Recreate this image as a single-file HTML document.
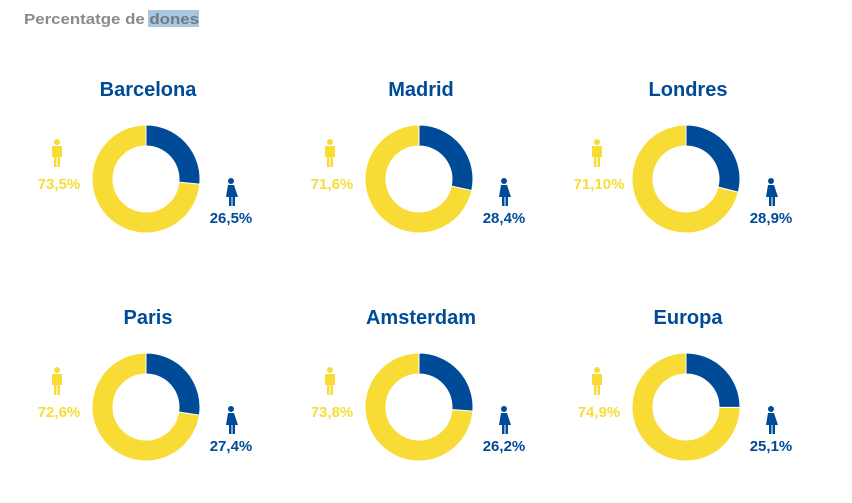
<!DOCTYPE html>
<html><head><meta charset="utf-8">
<style>
body{margin:0;background:#fff;width:852px;height:498px;overflow:hidden;font-family:"Liberation Sans",sans-serif;}
svg text{font-family:"Liberation Sans",sans-serif;font-weight:bold;}
</style></head>
<body>
<svg id="chart" width="852" height="498">
<rect x="148" y="10" width="51" height="17" fill="#a9c6de"/>
<text x="24" y="24" font-size="15" fill="#8a8a8a" textLength="175" lengthAdjust="spacingAndGlyphs">Percentatge de <tspan fill="#6f7a85">dones</tspan></text>
</svg>
<script>
const cities = ["Barcelona","Madrid","Londres","Paris","Amsterdam","Europa"];
const womenPct = [26.5,28.4,28.9,27.4,26.2,25.1];
const menLabels = ["73,5%","71,6%","71,10%","72,6%","73,8%","74,9%"];
const womenLabels = ["26,5%","28,4%","28,9%","27,4%","26,2%","25,1%"];

const svg = document.getElementById('chart');
const NS = 'http://www.w3.org/2000/svg';
const BLUE = '#004b98', YELLOW = '#f8dc35';
const colX = [146, 419, 686];
const rowY = [179, 407];
const titleY = [96, 324];
const R = 54, r = 33;
function mk(tag, attrs){const e=document.createElementNS(NS,tag);for(const k in attrs)e.setAttribute(k,attrs[k]);return e;}
function pt(cx,cy,rad,frac){const a=frac*2*Math.PI-Math.PI/2;return [cx+rad*Math.cos(a),cy+rad*Math.sin(a)];}
function arc(cx,cy,f0,f1){
  const [x0,y0]=pt(cx,cy,R,f0),[x1,y1]=pt(cx,cy,R,f1),[x2,y2]=pt(cx,cy,r,f1),[x3,y3]=pt(cx,cy,r,f0);
  const lg=(f1-f0)>0.5?1:0;
  return `M${x0},${y0} A${R},${R} 0 ${lg} 1 ${x1},${y1} L${x2},${y2} A${r},${r} 0 ${lg} 0 ${x3},${y3} Z`;
}
function man(g,x,y){
  g.appendChild(mk('circle',{cx:x,cy:y+3,r:3,fill:YELLOW}));
  g.appendChild(mk('path',{d:`M${x-5},${y+7} h10 v11 h-2 v10 h-2.5 v-10 h-1 v10 h-2.5 v-10 h-2 z`,fill:YELLOW}));
}
function woman(g,x,y){
  g.appendChild(mk('circle',{cx:x,cy:y+3,r:3,fill:BLUE}));
  g.appendChild(mk('path',{d:`M${x-3},${y+7} h6 l4,12 h-3 v9 h-2.5 v-9 h-1 v9 h-2.5 v-9 h-3 z`,fill:BLUE}));
}
for(let i=0;i<cities.length;i++){
  const cx=colX[i%3], cy=rowY[Math.floor(i/3)];
  const g=mk('g',{});
  
  
  const t=mk('text',{x:cx+2,y:titleY[Math.floor(i/3)],'font-size':20,fill:BLUE,'text-anchor':'middle'});
  t.textContent=cities[i];
  
  
  g.appendChild(t);
  const f=womenPct[i]/100;
  const men=mk('path',{d:arc(cx,cy,f,1),fill:YELLOW,stroke:'#fff','stroke-width':1});
  
  
  g.appendChild(men);
  const wom=mk('path',{d:arc(cx,cy,0,f),fill:BLUE,stroke:'#fff','stroke-width':1});
  
  
  g.appendChild(wom);
  man(g,cx-89,cy-40);
  const ml=mk('text',{x:cx-87,y:cy+10,'font-size':15,fill:YELLOW,'text-anchor':'middle'});
  ml.textContent=menLabels[i];
  
  
  g.appendChild(ml);
  woman(g,cx+85,cy-1);
  const wl=mk('text',{x:cx+85,y:cy+44,'font-size':15,fill:BLUE,'text-anchor':'middle'});
  wl.textContent=womenLabels[i];
  
  
  g.appendChild(wl);
  svg.appendChild(g);
}
</script>
</body></html>
